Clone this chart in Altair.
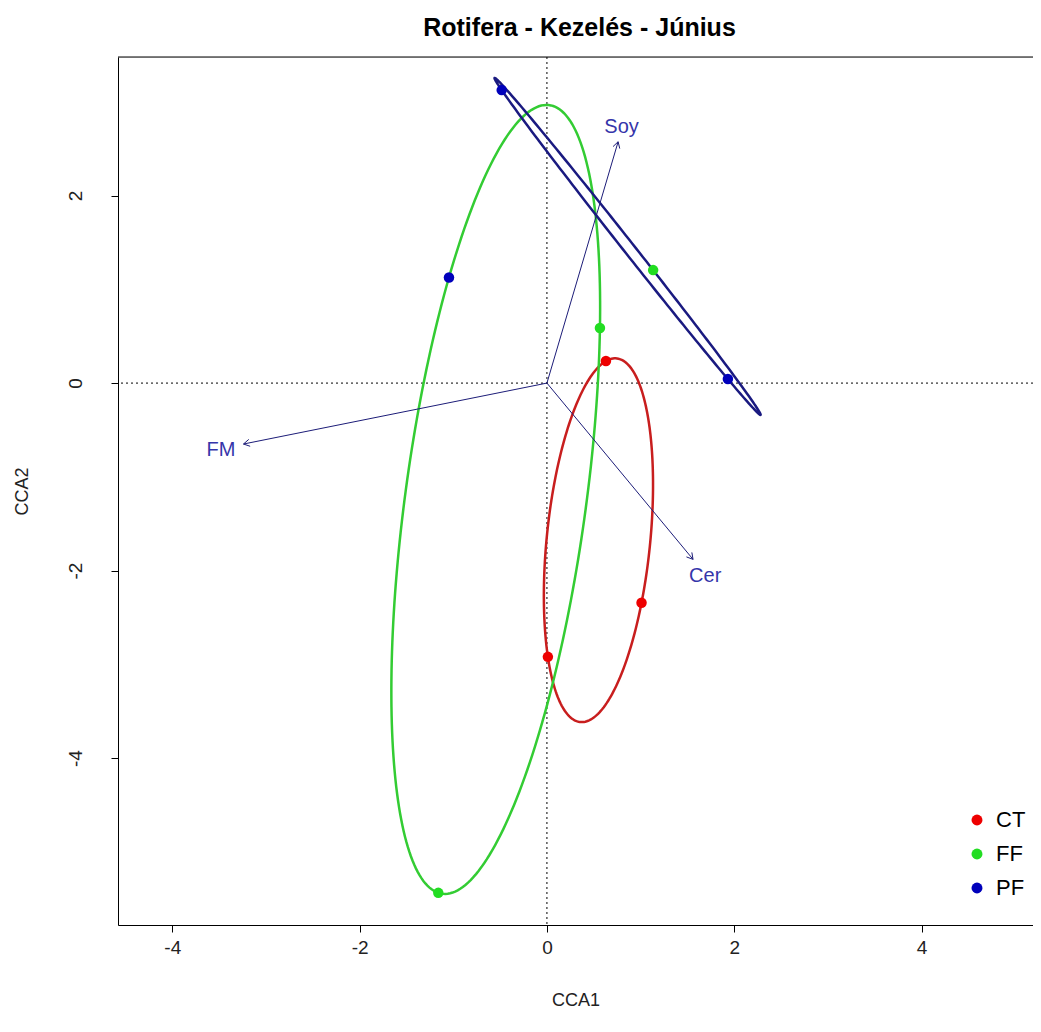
import numpy as np
import pandas as pd
import altair as alt

# ---- data ----
pt_x = [0.63, 1.01, 0.01, 0.566, -1.16, -1.046, -0.483, 1.932, 1.134]
pt_y = [0.235, -2.343, -2.92, 0.587, -5.437, 1.127, 3.125, 0.043, 1.205]
pt_label = ["CT", "CT", "CT", "FF", "FF", "PF", "PF", "PF", "FF"]   # colour of the dot
pt_group = ["CT", "CT", "CT", "FF", "FF", "FF", "PF", "PF", "PF"]   # ellipse group

arr_name = ["FM", "Soy", "Cer"]
arr_x = [-3.24, 0.76, 1.56]
arr_y = [-0.65, 2.574, -1.88]
lab_x = [-3.48, 0.797, 1.69]
lab_y = [-0.71, 2.734, -2.055]

groups = ["CT", "FF", "PF"]
point_colors = ["#ee0000", "#22dd22", "#0000bb"]
ellipse_colors = ["#c81e1e", "#33cc33", "#1a1a80"]

x_ticks = [-4, -2, 0, 2, 4]
y_ticks = [-4, -2, 0, 2]
x_dom = [-4.58, 5.19]
y_dom = [-5.78, 3.478]
W, H = 915, 868

# ---- derived tables ----
pts = pd.DataFrame({"x": pt_x, "y": pt_y, "lbl": pt_label, "grp": pt_group})

# enclosing ellipse (Steiner circumellipse) of each three-point group
rows = []
t = np.linspace(0, 2 * np.pi, 241)
for g in groups:
    sub = pts[pts.grp == g][["x", "y"]].to_numpy()
    A, B, C = sub[0], sub[1], sub[2]
    G = sub.mean(axis=0)
    u = A - G
    v = (C - B) / np.sqrt(3)
    for i, tt in enumerate(t):
        p = G + u * np.cos(tt) + v * np.sin(tt)
        rows.append({"x": p[0], "y": p[1], "grp": g, "i": i})
ell = pd.DataFrame(rows)

arrows = pd.DataFrame({"name": arr_name, "x0": 0.0, "y0": 0.0, "x": arr_x, "y": arr_y,
                       "lx": lab_x, "ly": lab_y})
# open arrow heads
head_len = 0.075
heads = []
for n, ax_, ay_ in zip(arr_name, arr_x, arr_y):
    ang = np.arctan2(ay_, ax_)
    for s in (-1, 1):
        a2 = ang + np.pi + s * np.pi / 6
        heads.append({"name": n, "x0": ax_, "y0": ay_,
                      "x": ax_ + head_len * np.cos(a2), "y": ay_ + head_len * np.sin(a2)})
heads = pd.DataFrame(heads)

zero = pd.DataFrame({"z": [0.0]})

xs = alt.Scale(domain=x_dom, nice=False, zero=False)
ys = alt.Scale(domain=y_dom, nice=False, zero=False)

font = "Liberation Sans"
lab_expr = "'' + datum.value"

xaxis = alt.Axis(values=x_ticks, title="CCA1", grid=False, domain=True, domainColor="black",
                 tickColor="black", tickSize=7, labelFontSize=19, labelColor="#222222",
                 labelFont=font, labelPadding=6, labelExpr=lab_expr,
                 titleFont=font, titleFontSize=18,
                 titleFontWeight="normal", titleColor="#222222", titleY=75,
                 titleBaseline="middle")
yaxis = alt.Axis(values=y_ticks, title="CCA2", grid=False, domain=True, domainColor="black",
                 tickColor="black", tickSize=7, labelFontSize=19, labelColor="#222222",
                 labelFont=font, labelAngle=270, labelAlign="center", labelBaseline="middle",
                 labelPadding=36, labelExpr=lab_expr,
                 titleFont=font, titleFontSize=18, titleFontWeight="normal",
                 titleColor="#222222", titleX=-96, titleY=H / 2, titleAngle=270,
                 titleAlign="center", titleBaseline="middle")

vline = alt.Chart(zero).mark_rule(color="black", strokeDash=[2, 3], strokeWidth=1).encode(
    x=alt.X("z:Q", scale=xs, axis=xaxis))
hline = alt.Chart(zero).mark_rule(color="black", strokeDash=[2, 3], strokeWidth=1).encode(
    y=alt.Y("z:Q", scale=ys, axis=yaxis))

top_rule = alt.Chart(zero).mark_rule(color="black", strokeWidth=1).encode(
    x=alt.value(0), x2=alt.value(W), y=alt.value(0))

ellipses = alt.Chart(ell).mark_line(strokeWidth=2.5).encode(
    x=alt.X("x:Q", scale=xs, axis=xaxis),
    y=alt.Y("y:Q", scale=ys, axis=yaxis),
    color=alt.Color("grp:N", scale=alt.Scale(domain=groups, range=ellipse_colors), legend=None),
    detail="grp:N",
    order="i:Q",
)

arrow_lines = alt.Chart(arrows).mark_rule(color="#1c1c78", strokeWidth=1).encode(
    x=alt.X("x0:Q", scale=xs, axis=xaxis), y=alt.Y("y0:Q", scale=ys, axis=yaxis),
    x2="x:Q", y2="y:Q")
head_lines = alt.Chart(heads).mark_rule(color="#1c1c78", strokeWidth=1).encode(
    x=alt.X("x0:Q", scale=xs, axis=xaxis), y=alt.Y("y0:Q", scale=ys, axis=yaxis),
    x2="x:Q", y2="y:Q")
arrow_text = alt.Chart(arrows).mark_text(color="#3535aa", fontSize=20, font=font,
                                         align="center", baseline="middle").encode(
    x=alt.X("lx:Q", scale=xs, axis=xaxis), y=alt.Y("ly:Q", scale=ys, axis=yaxis), text="name:N")

points = alt.Chart(pts).mark_circle(size=110, opacity=1).encode(
    x=alt.X("x:Q", scale=xs, axis=xaxis),
    y=alt.Y("y:Q", scale=ys, axis=yaxis),
    color=alt.Color("lbl:N", scale=alt.Scale(domain=groups, range=point_colors),
                    legend=alt.Legend(title=None, orient="none", legendX=848, legendY=752,
                                      symbolType="circle", symbolSize=120, labelFontSize=22,
                                      labelFont=font, labelColor="black", labelOffset=8,
                                      rowPadding=12, padding=0, symbolStrokeWidth=0,
                                      symbolOpacity=1)),
)

chart = alt.layer(vline, hline, top_rule, ellipses, arrow_lines, head_lines, arrow_text, points
                  ).resolve_scale(color="independent").properties(
    width=W, height=H,
    title=alt.Title("Rotifera - Kezelés - Június", fontSize=25, font=font, fontWeight="bold",
                    color="black", anchor="middle", offset=16, dx=4),
    autosize=alt.AutoSizeParams(type="none"),
    padding={"left": 110, "top": 49, "right": 0, "bottom": 90},
).configure_view(stroke=None).configure(background="white")

chart.save("out.html", embed_options={"renderer": "svg", "actions": False})
